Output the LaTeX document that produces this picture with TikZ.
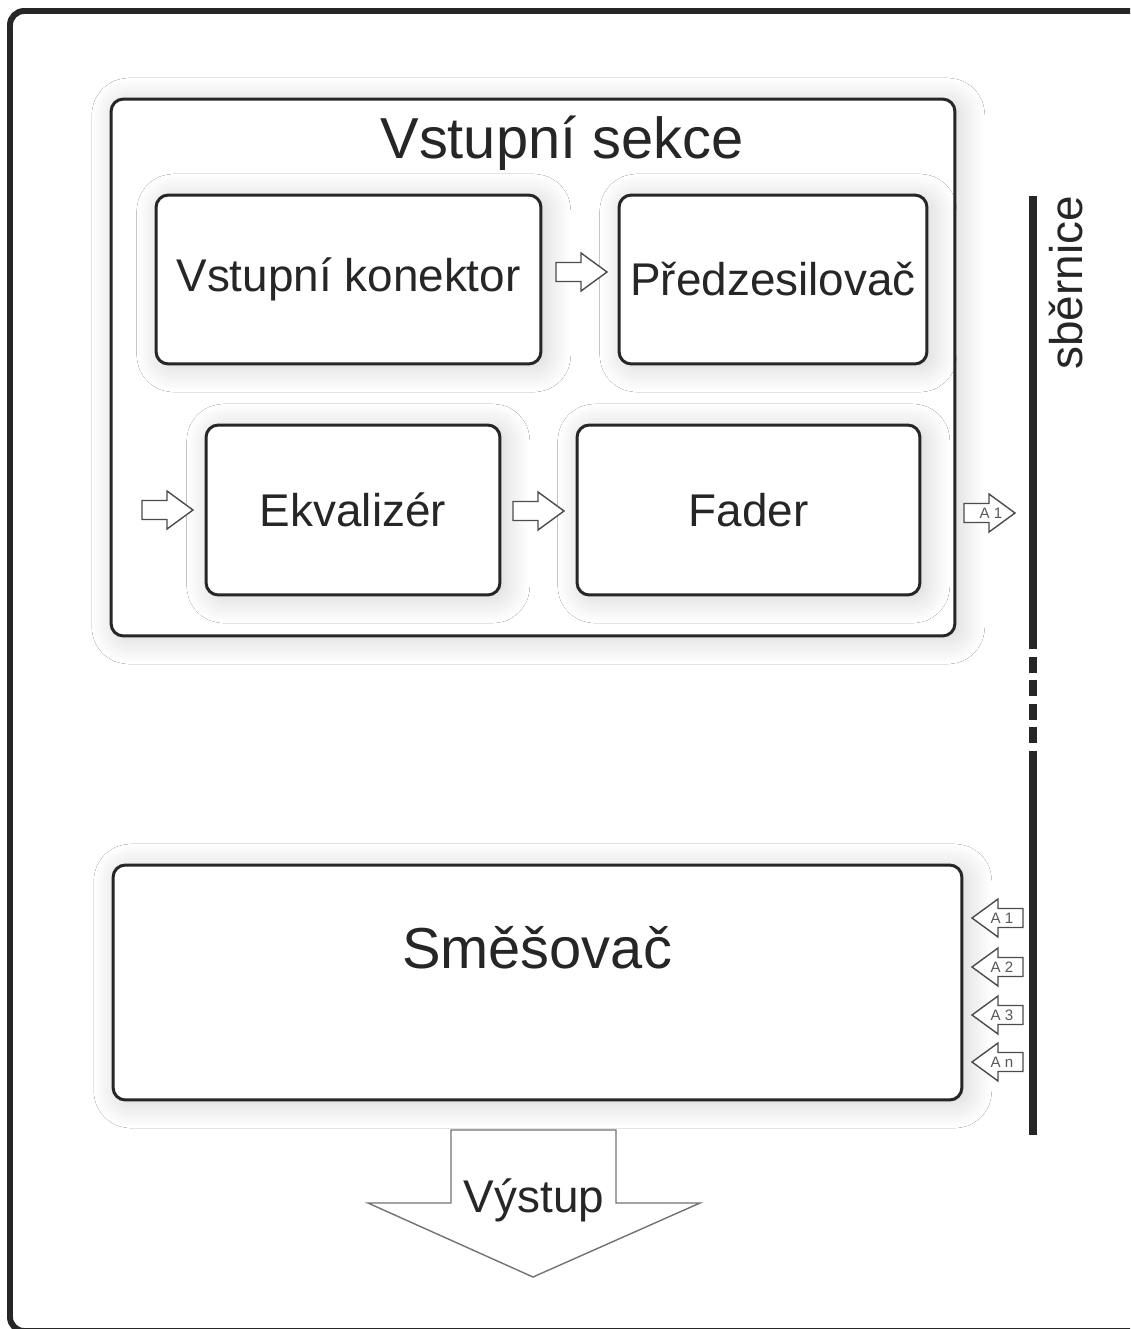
\documentclass[tikz,border=0pt]{standalone}
\usepackage{fontspec}
\setmainfont{Liberation Sans}
\usetikzlibrary{shadows.blur,calc}
\definecolor{ink}{HTML}{262626}
\begin{document}
\begin{tikzpicture}[x=0.02cm,y=-0.02cm,
  box/.style={draw=ink, line width=1.7pt, rounded corners=7pt, fill=white, inner sep=0pt,
     blur shadow={shadow xshift=3pt, shadow yshift=-2pt, shadow scale=1.0, shadow blur radius=14pt, shadow opacity=18, shadow blur steps=30}},
  big/.style={font=\fontsize{32.9}{38}\selectfont, text=ink},
  mid/.style={font=\fontsize{26.1}{30}\selectfont, text=ink},
  blk/.style={draw=black!70, line width=0.8pt, fill=white, line join=miter},
  small/.style={font=\fontsize{8.6}{10}\selectfont, text=black!65, inner sep=0pt},
  bus/.style={draw=ink, line width=4.5pt},
  pics/barrow/.style={code={\draw[blk] (0,-9.5) -- (25,-9.5) -- (25,-19) -- (51,0) -- (25,19) -- (25,9.5) -- (0,9.5) -- cycle;}}
  ]
\clip (0,0) rectangle (1130,1329);
\fill[white] (0,0) rectangle (1130,1329);
% outer frame
\draw[ink, line width=3.4pt, rounded corners=8pt] (10,11) rectangle (1170,1331);

% input section
\node[box, minimum width=16.88cm, minimum height=10.74cm] (sekce) at (533,367.5) {};
\node[big] (title) at (562,143) {Vstupní sekce};
\node[box, mid, minimum width=7.7cm, minimum height=3.38cm] (kon) at (348.5,279.5) {Vstupní konektor};
\node[box, mid, minimum width=6.16cm, minimum height=3.38cm] (pre) at (773,279.5) {Předzesilovač};
\node[box, mid, minimum width=5.88cm, minimum height=3.4cm] (ekv) at (353,510) {Ekvalizér};
\node[box, mid, minimum width=6.86cm, minimum height=3.4cm] (fad) at (748.5,510) {Fader};

% block arrows
\pic at (556,272) {barrow};
\pic at (142,510) {barrow};
\pic at (513,511) {barrow};
\pic at (964,513) {barrow};
\node[small] (a1out) at (991,513) {A 1};

% mixer
\node[box, minimum width=16.98cm, minimum height=4.7cm] (smes) at (537.5,982.5) {};
\node[big] (smest) at (537,948) {Směšovač};

\pic[xscale=-1] at (1023,918) {barrow};
\pic[xscale=-1] at (1023,967) {barrow};
\pic[xscale=-1] at (1023,1015) {barrow};
\pic[xscale=-1] at (1023,1062) {barrow};
\node[small] (in1) at (1002,918) {A 1};
\node[small] (in2) at (1002,967) {A 2};
\node[small] (in3) at (1002,1015) {A 3};
\node[small] (inn) at (1002,1062) {A n};

% bus
\coordinate (b0) at (1033,196);
\coordinate (b1) at (1033,649);
\coordinate (b2) at (1033,657);
\coordinate (b3) at (1033,743);
\coordinate (b4) at (1033,751);
\coordinate (b5) at (1033,1135);
\draw[bus] (b0) -- (b1);
\draw[bus, dash pattern=on 0.32cm off 0.147cm] (b2) -- (b3);
\draw[bus] (b4) -- (b5);
\node[mid, rotate=90] (busl) at (1066,283) {sběrnice};

% output arrow
\draw[draw=black!55, line width=0.8pt, fill=white] (451,1130) -- (616,1130) -- (616,1203) -- (700,1203) -- (533,1277) -- (368,1203) -- (451,1203) -- cycle;
\node[mid] (out) at (534,1200) {Výstup};
\end{tikzpicture}
\end{document}
